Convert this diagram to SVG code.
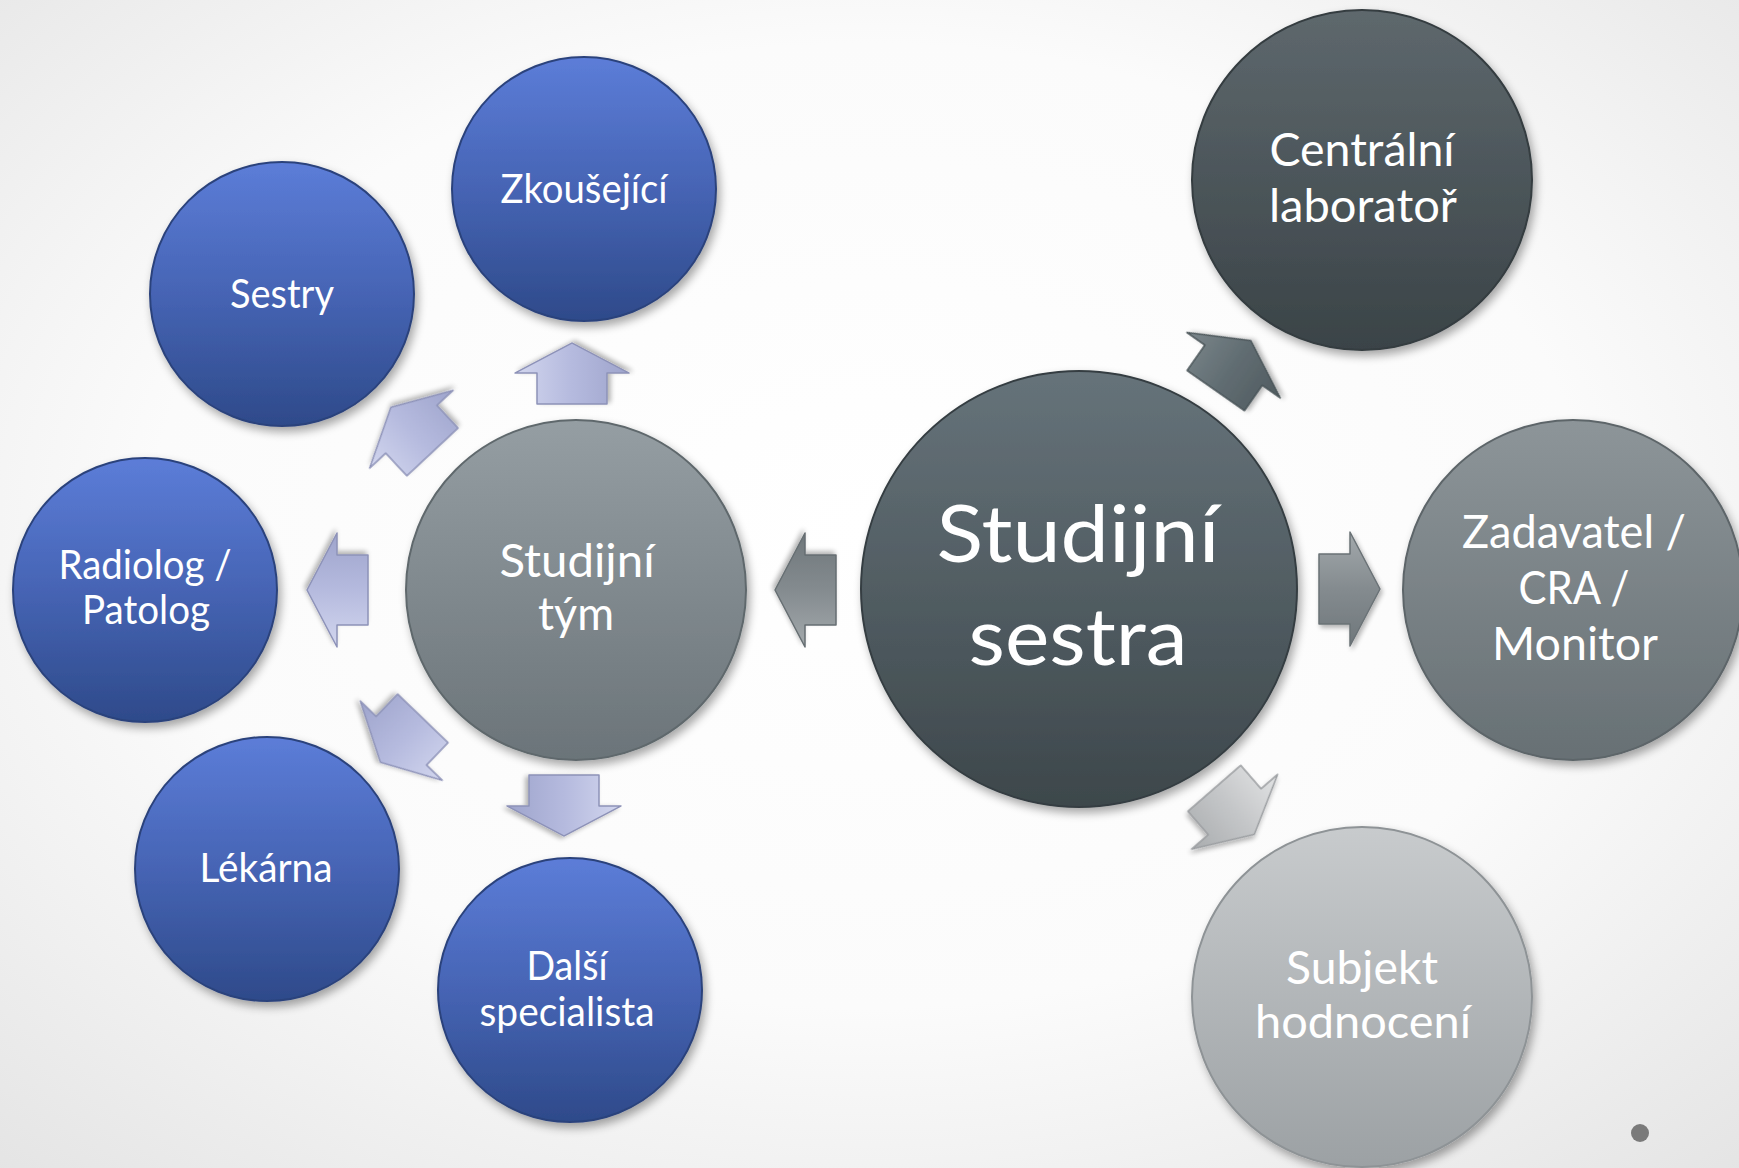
<svg xmlns="http://www.w3.org/2000/svg" xmlns:xlink="http://www.w3.org/1999/xlink" width="1739" height="1168" viewBox="0 0 1739 1168">
<defs>
<radialGradient id="bg" cx="50%" cy="45%" r="75%">
<stop offset="0" stop-color="#ffffff"/>
<stop offset="0.55" stop-color="#fbfbfb"/>
<stop offset="1" stop-color="#e4e4e4"/>
</radialGradient>
<linearGradient id="gBlue" x1="0" y1="0" x2="0" y2="1">
<stop offset="0" stop-color="#5c7dd8"/>
<stop offset="0.5" stop-color="#4664b4"/>
<stop offset="1" stop-color="#2e4a8a"/>
</linearGradient>
<linearGradient id="gTym" x1="0" y1="0" x2="0" y2="1">
<stop offset="0" stop-color="#959ea3"/>
<stop offset="1" stop-color="#6b7479"/>
</linearGradient>
<linearGradient id="gSestra" x1="0" y1="0" x2="0" y2="1">
<stop offset="0" stop-color="#66737a"/>
<stop offset="1" stop-color="#3d474b"/>
</linearGradient>
<linearGradient id="gLab" x1="0" y1="0" x2="0" y2="1">
<stop offset="0" stop-color="#5e686d"/>
<stop offset="1" stop-color="#3a4347"/>
</linearGradient>
<linearGradient id="gZad" x1="0" y1="0" x2="0" y2="1">
<stop offset="0" stop-color="#8d9599"/>
<stop offset="1" stop-color="#677074"/>
</linearGradient>
<linearGradient id="gSub" x1="0" y1="0" x2="0" y2="1">
<stop offset="0" stop-color="#c8cbcd"/>
<stop offset="1" stop-color="#9ca1a4"/>
</linearGradient>
<linearGradient id="aLav" x1="0" y1="0" x2="0" y2="1">
<stop offset="0" stop-color="#d2d6ee"/>
<stop offset="0.5" stop-color="#b5bade"/>
<stop offset="1" stop-color="#9ea4cc"/>
</linearGradient>
<linearGradient id="aGray" x1="0" y1="0" x2="0" y2="1">
<stop offset="0" stop-color="#a3a9ac"/>
<stop offset="0.5" stop-color="#848b8f"/>
<stop offset="1" stop-color="#6f777b"/>
</linearGradient>
<linearGradient id="aDark" x1="0" y1="0" x2="0" y2="1">
<stop offset="0" stop-color="#7b868b"/>
<stop offset="0.5" stop-color="#616d72"/>
<stop offset="1" stop-color="#505b60"/>
</linearGradient>
<linearGradient id="aLight" x1="0" y1="0" x2="0" y2="1">
<stop offset="0" stop-color="#e2e3e4"/>
<stop offset="0.5" stop-color="#c4c6c8"/>
<stop offset="1" stop-color="#a9acae"/>
</linearGradient>
<filter id="sh" x="-20%" y="-20%" width="140%" height="140%">
<feGaussianBlur in="SourceAlpha" stdDeviation="5"/>
<feOffset dx="3" dy="5" result="o"/>
<feComponentTransfer><feFuncA type="linear" slope="0.35"/></feComponentTransfer>
<feMerge><feMergeNode/><feMergeNode in="SourceGraphic"/></feMerge>
</filter>
<filter id="ash" x="-30%" y="-30%" width="160%" height="160%">
<feGaussianBlur in="SourceAlpha" stdDeviation="2.5"/>
<feOffset dx="2" dy="3" result="o"/>
<feComponentTransfer><feFuncA type="linear" slope="0.3"/></feComponentTransfer>
<feMerge><feMergeNode/><feMergeNode in="SourceGraphic"/></feMerge>
</filter>
<path id="arr" d="M-30,-35 H1 V-57 L31,0 L1,57 V35 H-30 Z"/>
<style>
.c{filter:url(#sh);stroke-width:2}
.blue{fill:url(#gBlue);stroke:#2c437c}
.t{font-family:Lato,"Open Sans","Noto Sans",sans-serif;fill:#ffffff;text-anchor:middle}
.s40{font-size:40px}
.s46{font-size:46px}
.s80{font-size:80px}
.a{filter:url(#ash);stroke-width:1.5;stroke-linejoin:round}
</style>
</defs>
<rect x="0" y="0" width="1739" height="1168" fill="url(#bg)"/>

<g id="connectors">
<use xlink:href="#arr" href="#arr" class="a" fill="url(#aLav)" stroke="#8d92b8" transform="translate(572,374) rotate(-90)"/>
<use xlink:href="#arr" href="#arr" class="a" fill="url(#aLav)" stroke="#8d92b8" transform="translate(412,430) rotate(-133)"/>
<use xlink:href="#arr" href="#arr" class="a" fill="url(#aLav)" stroke="#8d92b8" transform="translate(338,590) rotate(180)"/>
<use xlink:href="#arr" href="#arr" class="a" fill="url(#aLav)" stroke="#8d92b8" transform="translate(402,740) rotate(134)"/>
<use xlink:href="#arr" href="#arr" class="a" fill="url(#aLav)" stroke="#8d92b8" transform="translate(564,805) rotate(90)"/>
<use xlink:href="#arr" href="#arr" class="a" fill="url(#aGray)" stroke="#666e72" transform="translate(806,590) rotate(180)"/>
<use xlink:href="#arr" href="#arr" class="a" fill="url(#aDark)" stroke="#4a5458" transform="translate(1233,366) rotate(-55)"/>
<use xlink:href="#arr" href="#arr" class="a" fill="url(#aGray)" stroke="#6a7276" transform="translate(1349,589)"/>
<use xlink:href="#arr" href="#arr" class="a" fill="url(#aLight)" stroke="#9a9da0" transform="translate(1234,811) rotate(49)"/>
</g>

<g id="node-zkousejici">
<circle class="c blue" cx="584" cy="189" r="132"/>
<text class="t s40" x="584" y="203" textLength="167" lengthAdjust="spacingAndGlyphs">Zkoušející</text>
</g>
<g id="node-sestry">
<circle class="c blue" cx="282" cy="294" r="132"/>
<text class="t s40" x="282" y="308" textLength="104" lengthAdjust="spacingAndGlyphs">Sestry</text>
</g>
<g id="node-radiolog">
<circle class="c blue" cx="145" cy="590" r="132"/>
<text class="t s40" x="145" y="579" textLength="173" lengthAdjust="spacingAndGlyphs">Radiolog /</text>
<text class="t s40" x="146" y="624" textLength="128" lengthAdjust="spacingAndGlyphs">Patolog</text>
</g>
<g id="node-lekarna">
<circle class="c blue" cx="267" cy="869" r="132"/>
<text class="t s40" x="266" y="882" textLength="133" lengthAdjust="spacingAndGlyphs">Lékárna</text>
</g>
<g id="node-dalsi">
<circle class="c blue" cx="570" cy="990" r="132"/>
<text class="t s40" x="567" y="980" textLength="81" lengthAdjust="spacingAndGlyphs">Další</text>
<text class="t s40" x="567" y="1026" textLength="175" lengthAdjust="spacingAndGlyphs">specialista</text>
</g>
<g id="node-studijni-tym">
<circle class="c" cx="576" cy="590" r="170" fill="url(#gTym)" stroke="#5f686c"/>
<text class="t s46" x="577" y="577" textLength="155" lengthAdjust="spacingAndGlyphs">Studijní</text>
<text class="t s46" x="576" y="630" textLength="76" lengthAdjust="spacingAndGlyphs">tým</text>
</g>
<g id="node-studijni-sestra">
<circle class="c" cx="1079" cy="589" r="218" fill="url(#gSestra)" stroke="#353e42"/>
<text class="t s80" x="1078" y="562" textLength="283" lengthAdjust="spacingAndGlyphs">Studijní</text>
<text class="t s80" x="1078" y="665" textLength="219" lengthAdjust="spacingAndGlyphs">sestra</text>
</g>
<g id="node-centralni">
<circle class="c" cx="1362" cy="180" r="170" fill="url(#gLab)" stroke="#343c40"/>
<text class="t s46" x="1362" y="166" textLength="185" lengthAdjust="spacingAndGlyphs">Centrální</text>
<text class="t s46" x="1363" y="222" textLength="188" lengthAdjust="spacingAndGlyphs">laboratoř</text>
</g>
<g id="node-zadavatel">
<circle class="c" cx="1573" cy="590" r="170" fill="url(#gZad)" stroke="#5d6569"/>
<text class="t s46" x="1574" y="548" textLength="224" lengthAdjust="spacingAndGlyphs">Zadavatel /</text>
<text class="t s46" x="1574" y="604" textLength="111" lengthAdjust="spacingAndGlyphs">CRA /</text>
<text class="t s46" x="1575" y="660" textLength="166" lengthAdjust="spacingAndGlyphs">Monitor</text>
</g>
<g id="node-subjekt">
<circle class="c" cx="1362" cy="997" r="170" fill="url(#gSub)" stroke="#8e9396"/>
<text class="t s46" x="1362" y="984" textLength="152" lengthAdjust="spacingAndGlyphs">Subjekt</text>
<text class="t s46" x="1363" y="1038" textLength="216" lengthAdjust="spacingAndGlyphs">hodnocení</text>
</g>
<circle cx="1640" cy="1133" r="9" fill="#7a7a7a"/>
</svg>
